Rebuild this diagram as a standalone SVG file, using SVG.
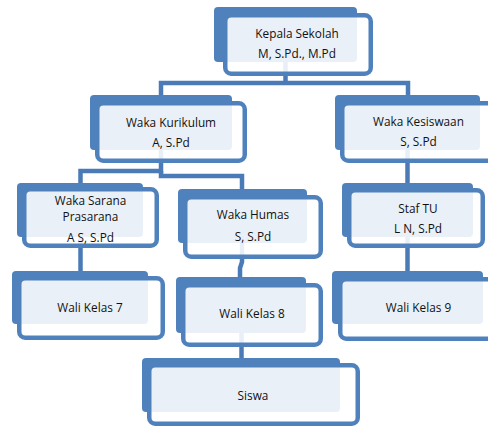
<svg xmlns="http://www.w3.org/2000/svg" width="488" height="427" viewBox="0 0 488 427">
<style>
.back{fill:#4F81BD}
.front{fill:#ffffff;fill-opacity:0.88;stroke:#4F81BD;stroke-width:4.5}
.con{fill:none;stroke:#4A7BB7;stroke-width:4.5}
text{font-family:"Open Sans","Liberation Sans",sans-serif;font-size:11.8px;fill:#111111;text-anchor:middle}
</style>
<rect width="488" height="427" fill="#ffffff"/>
<g id="connectors">
<path class="con" d="M285.5,60 V83"/>
<path class="con" d="M161,98 V83 H408 V98"/>
<path class="con" d="M161,148 V171 H80.5 V186"/>
<path class="con" d="M161,171 V176 H242 V191"/>
<path class="con" d="M407.5,148 V186"/>
<path class="con" d="M407.5,235 V274"/>
<path class="con" d="M80.5,235 V274"/>
<path class="con" d="M242,241 V262 L240,268 V280"/>
<path class="con" d="M241.5,330 V360"/>
</g>
<g id="kepala">
<rect class="back" x="214" y="7" width="143" height="55" rx="4"/>
<rect class="front" x="225.25" y="15.25" width="145.5" height="58.5" rx="6"/>
<text x="297" y="38">Kepala Sekolah</text>
<text x="297" y="58">M, S.Pd., M.Pd</text>
</g>
<g id="kurikulum">
<rect class="back" x="90" y="95" width="142" height="55" rx="4"/>
<rect class="front" x="97.25" y="103.25" width="147.5" height="57.5" rx="6"/>
<text x="171" y="127">Waka Kurikulum</text>
<text x="171" y="147">A, S.Pd</text>
</g>
<g id="kesiswaan">
<rect class="back" x="335" y="95" width="145" height="55" rx="4"/>
<rect class="front" x="342.25" y="103.25" width="152.5" height="57.5" rx="6"/>
<text x="418.5" y="126">Waka Kesiswaan</text>
<text x="418.5" y="146">S, S.Pd</text>
</g>
<g id="sarana">
<rect class="back" x="17" y="183" width="126" height="54" rx="4"/>
<rect class="front" x="24.25" y="189.25" width="132.5" height="56.5" rx="6"/>
<text x="90.5" y="205">Waka Sarana</text>
<text x="90.5" y="221">Prasarana</text>
<text x="90.5" y="242">A S, S.Pd</text>
</g>
<g id="humas">
<rect class="back" x="178" y="189" width="129" height="54" rx="4"/>
<rect class="front" x="185.25" y="197.25" width="135.5" height="59.5" rx="6"/>
<text x="253" y="219">Waka Humas</text>
<text x="253" y="241">S, S.Pd</text>
</g>
<g id="staftu">
<rect class="back" x="342" y="183" width="131" height="54" rx="4"/>
<rect class="front" x="349.25" y="190.25" width="133.5" height="55.5" rx="6"/>
<text x="418" y="213">Staf TU</text>
<text x="418" y="233">L N, S.Pd</text>
</g>
<g id="wali7">
<rect class="back" x="12" y="271" width="136" height="53" rx="4"/>
<rect class="front" x="19.25" y="278.25" width="143.5" height="59.5" rx="6"/>
<text x="90" y="312">Wali Kelas 7</text>
</g>
<g id="wali8">
<rect class="back" x="176" y="277" width="130" height="56" rx="4"/>
<rect class="front" x="183.25" y="285.25" width="137.5" height="59.5" rx="6"/>
<text x="252" y="318">Wali Kelas 8</text>
</g>
<g id="wali9">
<rect class="back" x="332" y="271" width="151" height="53" rx="4"/>
<rect class="front" x="340.25" y="279.25" width="156.5" height="59.5" rx="6"/>
<text x="418.5" y="312">Wali Kelas 9</text>
</g>
<g id="siswa">
<rect class="back" x="142" y="358" width="198" height="54" rx="4"/>
<rect class="front" x="149.25" y="365.25" width="208.5" height="58.5" rx="6"/>
<text x="253" y="400">Siswa</text>
</g>
</svg>
